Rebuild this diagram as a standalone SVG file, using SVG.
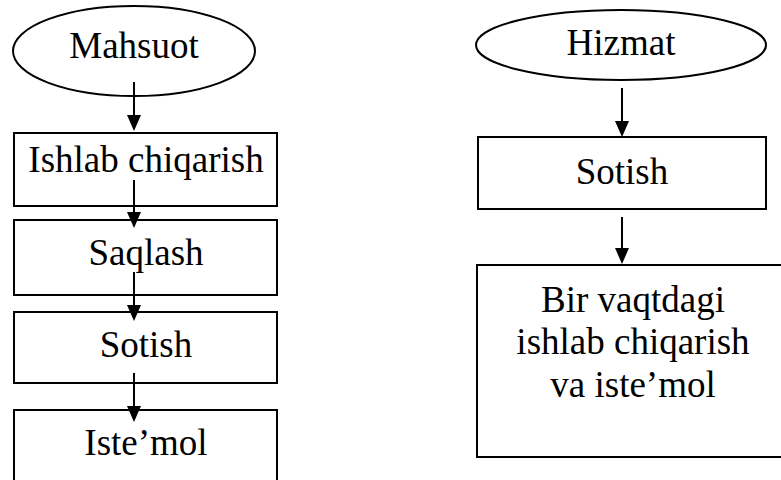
<svg xmlns="http://www.w3.org/2000/svg" width="781" height="480" viewBox="0 0 781 480">
<style>
.s{fill:#fff;stroke:#000;stroke-width:2}
.t{font-family:'Liberation Serif',Tinos,'Times New Roman','DejaVu Serif',serif;font-size:37px;fill:#000;text-anchor:middle}
.c line{stroke:#000;stroke-width:2}
.c path{fill:#000;stroke:none}
</style>
<rect width="781" height="480" fill="#fff"/>
<g id="mahsuot"><ellipse class="s" cx="134" cy="51" rx="121" ry="45"/><text class="t" x="134" y="58">Mahsuot</text></g>
<g id="ishlab"><rect class="s" x="14" y="133" width="263" height="73"/><text class="t" x="146" y="172">Ishlab chiqarish</text></g>
<g id="saqlash"><rect class="s" x="14" y="220" width="263" height="75"/><text class="t" x="146" y="265">Saqlash</text></g>
<g id="sotish1"><rect class="s" x="14" y="312" width="263" height="71"/><text class="t" x="146" y="357">Sotish</text></g>
<g id="istemol"><rect class="s" x="14" y="410" width="263" height="80"/><text class="t" x="146" y="455">Iste’mol</text></g>
<g id="hizmat"><ellipse class="s" cx="621" cy="45" rx="145" ry="35"/><text class="t" x="621" y="55">Hizmat</text></g>
<g id="sotish2"><rect class="s" x="478" y="137" width="288" height="72"/><text class="t" x="622" y="184">Sotish</text></g>
<g id="birvaqt"><rect class="s" x="477" y="265" width="320" height="192"/><text class="t" x="633" y="312">Bir vaqtdagi</text><text class="t" x="633" y="354">ishlab chiqarish</text><text class="t" x="633" y="397">va iste’mol</text></g>
<g class="c" id="connectors">
<line x1="134" y1="82" x2="134" y2="116"/><path d="M127 115 L141 115 L134 131 Z"/>
<line x1="134" y1="180" x2="134" y2="213"/><path d="M127 212 L141 212 L134 228 Z"/>
<line x1="134" y1="272" x2="134" y2="306"/><path d="M127 305 L141 305 L134 321 Z"/>
<line x1="134" y1="373" x2="134" y2="407"/><path d="M127 406 L141 406 L134 422 Z"/>
<line x1="622" y1="88" x2="622" y2="122"/><path d="M615 121 L629 121 L622 137 Z"/>
<line x1="622" y1="217" x2="622" y2="249"/><path d="M615 248 L629 248 L622 264 Z"/>
</g>
</svg>
